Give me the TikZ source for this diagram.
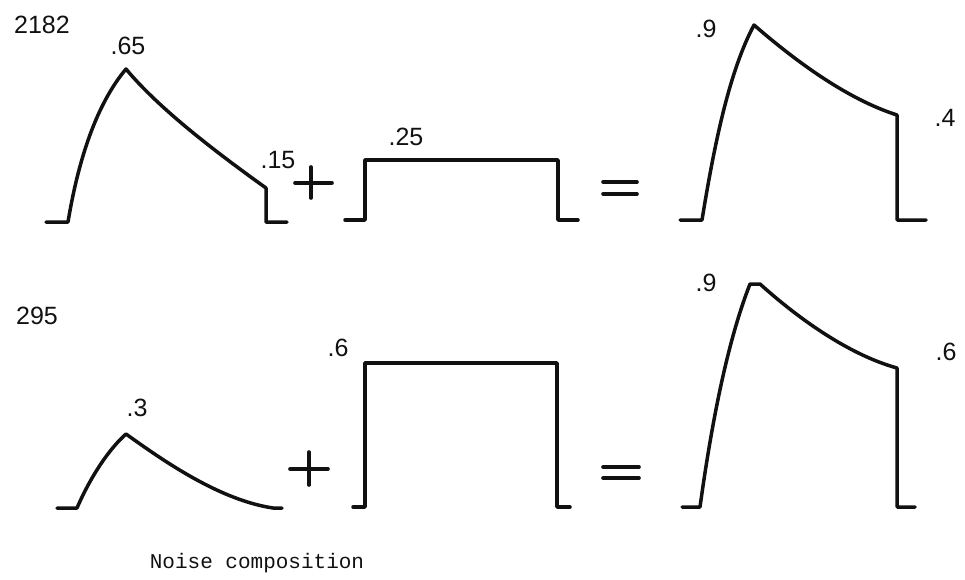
\documentclass[tikz,border=0pt]{standalone}
\usepackage{fontspec}
\setmainfont{Liberation Sans}
\setmonofont{Liberation Mono}
\usetikzlibrary{positioning}
\definecolor{cink}{HTML}{111111}
\tikzset{
  every picture/.style={x=1pt, y=-1pt, line width=3.5pt},
  wave/.style={draw=cink, line width=3.5pt, line join=round, line cap=round},
  sign/.style={draw=cink, line width=3.6pt, line cap=round},
  lvl/.style={font=\fontsize{25}{28}\selectfont, text=cink, inner sep=0pt},
  caption/.style={font=\ttfamily\fontsize{21}{24}\selectfont, text=cink, inner sep=0pt},
}

\begin{document}
\begin{tikzpicture}
  \useasboundingbox (0,0) rectangle (965,579);
  % row labels and levels
  \foreach \n/\x/\y/\t in {
      r1/42/25/2182, r2/37/316/295,
      a1/128/46/.65, a2/278/160/.15, b1/406/137/.25,
      c1/706/29/.9, c2/945/118/.4,
      d1/137/408/.3, e1/338/348/.6,
      f1/706/283/.9, f2/946/352/.6}
    \node[lvl] (\n) at (\x,\y) {\t};
  % top row: decaying burst + step = sum
  \draw[wave] (46,222) -- (68,222) .. controls (80,150) and (100,100) .. (126,69)
    .. controls (160,110) and (220,155) .. (266,188) -- (266,222) -- (287,222);
  \draw[wave] (345,220) -- (365,220) -- (365,160) -- (558,160) -- (558,220) -- (578,220);
  \draw[wave] (680,220) -- (702,220) .. controls (715,140) and (730,70) .. (754,25)
    .. controls (800,65) and (850,100) .. (897,115) -- (897,220) -- (926,220);
  % bottom row
  \draw[wave] (57,508) -- (77,508) .. controls (90,478) and (108,450) .. (126,434)
    .. controls (165,462) and (220,500) .. (273,508) -- (282,508);
  \draw[wave] (353,507) -- (365,507) -- (365,363) -- (557,363) -- (557,507) -- (570,507);
  \draw[wave] (682,507) -- (700,507) .. controls (712,420) and (728,340) .. (750,284)
    -- (760,284) .. controls (800,320) and (850,355) .. (897,368) -- (897,507) -- (915,507);
  % plus and equals signs
  \draw[sign] (295,183) -- (332,183) (311,167) -- (311,198);
  \draw[sign] (603,182) -- (637,182) (603,194) -- (637,194);
  \draw[sign] (290,469) -- (328,469) (309,452) -- (309,485);
  \draw[sign] (603,467) -- (639,467) (603,478) -- (639,478);
  \node[caption] (cap) at (257,563) {Noise composition};
\end{tikzpicture}
\end{document}
